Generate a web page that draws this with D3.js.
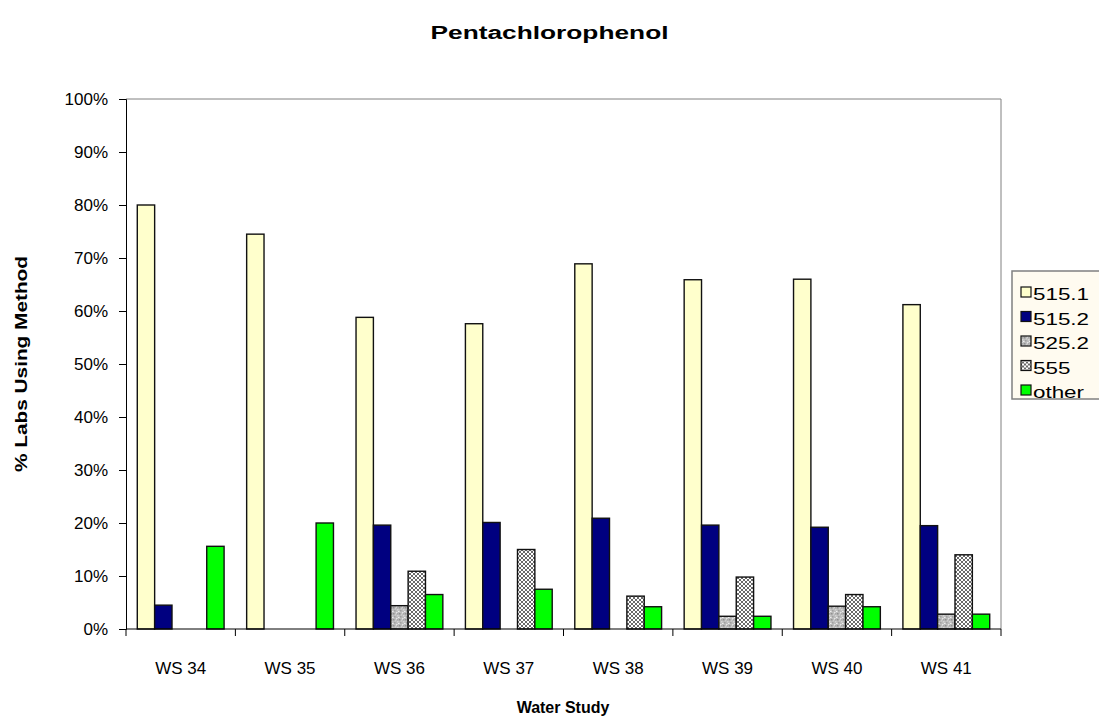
<!DOCTYPE html>
<html>
<head>
<meta charset="utf-8">
<script src="https://cdn.jsdelivr.net/npm/d3@7"></script>
<style>
  body { margin: 0; background: #fff; }
  text { font-family: "Liberation Sans", Arial, sans-serif; }
</style>
</head>
<body>
<div id="chart"></div>
<script>
// data (percent of labs)
const studies = ['WS 34', 'WS 35', 'WS 36', 'WS 37', 'WS 38', 'WS 39', 'WS 40', 'WS 41'];
const methods = ['515.1', '515.2', '525.2', '555', 'other'];
const m5151 = [80.0, 74.5, 58.8, 57.6, 68.9, 65.9, 66.0, 61.2];
const m5152 = [4.5, 0, 19.6, 20.1, 20.9, 19.6, 19.2, 19.5];
const m5252 = [0, 0, 4.4, 0, 0, 2.4, 4.3, 2.8];
const m555 = [0, 0, 10.9, 15.0, 6.2, 9.8, 6.5, 14.0];
const mOther = [15.6, 20.0, 6.5, 7.5, 4.2, 2.4, 4.2, 2.8];
const yTicks = [0, 10, 20, 30, 40, 50, 60, 70, 80, 90, 100];

const seriesValues = [m5151, m5152, m5252, m555, mOther];

const width = 1099;
const height = 725;
const plot = { left: 126, right: 1001, top: 99, bottom: 629 };

const svg = d3.select('#chart')
  .append('svg')
  .attr('width', width)
  .attr('height', height);

// fill patterns for the two textured series
const defs = svg.append('defs');
const granite = defs.append('pattern')
  .attr('id', 'granite')
  .attr('patternUnits', 'userSpaceOnUse')
  .attr('width', 6)
  .attr('height', 6);
granite.append('rect').attr('width', 6).attr('height', 6).attr('fill', '#bcbcbc');
[[0, 0, '#e4e4e4'], [3, 1, '#909090'], [1, 3, '#d4d4d4'], [4, 4, '#a0a0a0'], [2, 5, '#eeeeee'], [5, 2, '#cccccc'], [1, 1, '#a8a8a8']]
  .forEach(([x, y, c]) => {
    granite.append('rect').attr('x', x).attr('y', y).attr('width', 1.5).attr('height', 1.5).attr('fill', c);
  });

// fine crosshatch
const hatch = defs.append('pattern')
  .attr('id', 'hatch')
  .attr('patternUnits', 'userSpaceOnUse')
  .attr('width', 4)
  .attr('height', 4);
hatch.append('rect').attr('width', 4).attr('height', 4).attr('fill', '#ffffff');
[[0, 0], [1, 1], [2, 2], [3, 3], [3, 0], [2, 1], [1, 2], [0, 3]].forEach(([x, y]) => {
  hatch.append('rect').attr('x', x).attr('y', y).attr('width', 1).attr('height', 1).attr('fill', '#6a6a6a');
});

const fills = ['#ffffcc', '#000080', 'url(#granite)', 'url(#hatch)', '#00ff00'];

// scales
const x = d3.scaleBand()
  .domain(studies)
  .range([plot.left, plot.right]);

const xInner = d3.scaleBand()
  .domain(methods)
  .range([0, x.bandwidth()])
  .paddingOuter(0.65);

const y = d3.scaleLinear()
  .domain([0, 100])
  .range([plot.bottom, plot.top]);

// plot frame (top and right in gray)
svg.append('path')
  .attr('d', `M${plot.left},${plot.top}H${plot.right}V${plot.bottom}`)
  .attr('fill', 'none')
  .attr('stroke', '#808080')
  .attr('stroke-width', 1);

// bars
const rows = [];
methods.forEach((m, i) => {
  studies.forEach((s, j) => {
    rows.push({ method: m, study: s, value: seriesValues[i][j], idx: i });
  });
});

svg.append('g')
  .attr('class', 'bars')
  .selectAll('rect')
  .data(rows.filter(d => d.value > 0))
  .enter()
  .append('rect')
  .attr('x', d => x(d.study) + xInner(d.method))
  .attr('y', d => y(d.value))
  .attr('width', xInner.bandwidth())
  .attr('height', d => plot.bottom - y(d.value))
  .attr('fill', d => fills[d.idx])
  .attr('stroke', '#111')
  .attr('stroke-width', 1.4);

// y axis
const axisY = d3.axisLeft(y)
  .tickValues(yTicks)
  .tickSize(7)
  .tickFormat(d => d + '%');
const gy = svg.append('g')
  .attr('transform', `translate(${plot.left}, 0)`)
  .call(axisY);
gy.select('.domain').attr('stroke', '#000');
gy.selectAll('.tick line').attr('stroke', '#000');
gy.selectAll('.tick text')
  .attr('x', -18)
  .attr('font-size', 17)
  .attr('fill', '#000')
  .style('font-family', '"Liberation Sans", Arial, sans-serif');

// x axis: ticks on band edges
const gx = svg.append('g')
  .attr('transform', `translate(0, ${plot.bottom})`);
gx.append('line')
  .attr('x1', plot.left)
  .attr('x2', plot.right)
  .attr('stroke', '#000');
const edges = studies.map(s => x(s)).concat([plot.right]);
gx.selectAll('.edge')
  .data(edges)
  .enter()
  .append('line')
  .attr('x1', d => d)
  .attr('x2', d => d)
  .attr('y1', 0)
  .attr('y2', 7)
  .attr('stroke', '#000');
gx.selectAll('.lbl')
  .data(studies)
  .enter()
  .append('text')
  .attr('x', d => x(d) + x.bandwidth() / 2)
  .attr('y', 45)
  .attr('text-anchor', 'middle')
  .attr('font-size', 17)
  .text(d => d);

// titles
svg.append('text')
  .attr('x', 549.5)
  .attr('y', 39)
  .attr('text-anchor', 'middle')
  .attr('font-size', 18)
  .attr('font-weight', 'bold')
  .attr('textLength', 238)
  .attr('lengthAdjust', 'spacingAndGlyphs')
  .text('Pentachlorophenol');

svg.append('text')
  .attr('x', 563)
  .attr('y', 713)
  .attr('text-anchor', 'middle')
  .attr('font-size', 16)
  .attr('font-weight', 'bold')
  .text('Water Study');

svg.append('text')
  .attr('transform', `translate(27, ${(plot.top + plot.bottom) / 2}) rotate(-90)`)
  .attr('text-anchor', 'middle')
  .attr('font-size', 17)
  .attr('font-weight', 'bold')
  .attr('textLength', 216)
  .attr('lengthAdjust', 'spacingAndGlyphs')
  .text('% Labs Using Method');

// legend (text is drawn wide, as in the picture)
const legend = svg.append('g')
  .attr('class', 'legend')
  .attr('transform', 'translate(1012, 271)');
legend.append('rect')
  .attr('width', 110)
  .attr('height', 128)
  .attr('fill', '#fffbf0')
  .attr('stroke', '#808080')
  .attr('stroke-width', 1.5);
const item = legend.selectAll('.item')
  .data(methods)
  .enter()
  .append('g')
  .attr('transform', (d, i) => `translate(9, ${16 + i * 24.5})`);
item.append('rect')
  .attr('width', 10)
  .attr('height', 10)
  .attr('fill', (d, i) => fills[i])
  .attr('stroke', '#111')
  .attr('stroke-width', 1.2);
item.append('g')
  .attr('transform', 'translate(12, 13) scale(1.4, 1)')
  .append('text')
  .attr('font-size', 16)
  .text(d => d);
</script>
</body>
</html>
